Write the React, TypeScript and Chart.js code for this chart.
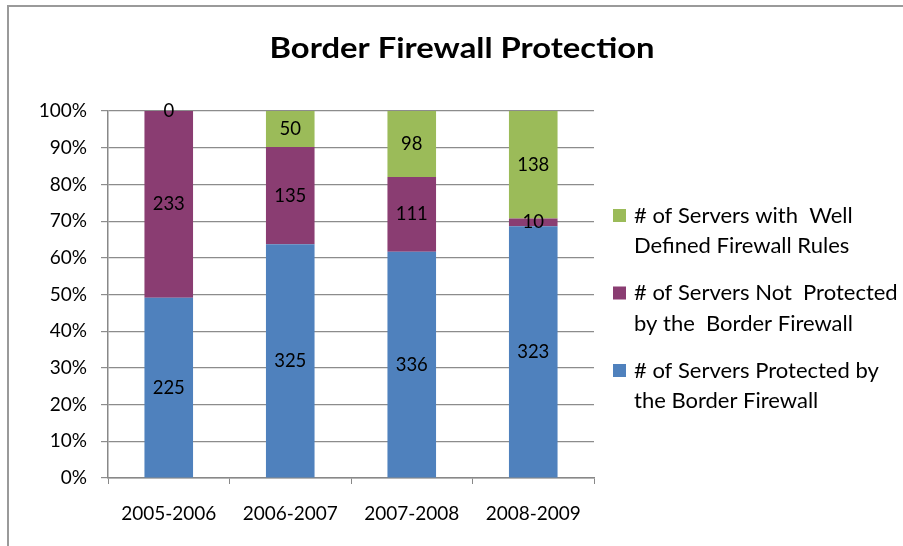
import React, { useEffect, useRef } from "react";
import { Chart, registerables } from "chart.js";

Chart.register(...registerables);

const categories = ["2005-2006", "2006-2007", "2007-2008", "2008-2009"];
const protectedServers = [225, 325, 336, 323];
const notProtectedServers = [233, 135, 111, 10];
const wellDefinedServers = [0, 50, 98, 138];
const chartTitle = "Border Firewall Protection";
const seriesNames = [
  "# of Servers Protected by the Border Firewall",
  "# of Servers Not Protected by the Border Firewall",
  "# of Servers with Well Defined Firewall Rules",
];
const legendLines = [
  ["# of Servers with  Well", "Defined Firewall Rules"],
  ["# of Servers Not  Protected", "by the  Border Firewall"],
  ["# of Servers Protected by", "the Border Firewall"],
];
const seriesColors = ["#4F81BD", "#8A3D72", "#9BBB59"];

const FONT = "Lato, 'Open Sans', sans-serif";

export default function App() {
  const ref = useRef<HTMLCanvasElement | null>(null);

  useEffect(() => {
    document.body.style.margin = "0";
    const canvas = ref.current;
    if (!canvas) return;
    const series = [protectedServers, notProtectedServers, wellDefinedServers];
    const totals = categories.map((_, i) => series.reduce((s, arr) => s + arr[i], 0));
    const pct = (arr: number[]) => arr.map((v, i) => (v / totals[i]) * 100);

    const framePlugin = {
      id: "frame",
      beforeDraw(chart: any) {
        const ctx = chart.ctx;
        ctx.save();
        ctx.fillStyle = "#ffffff";
        ctx.fillRect(0, 0, chart.width, chart.height);
        ctx.strokeStyle = "#9a9a9a";
        ctx.lineWidth = 2;
        ctx.strokeRect(8, 6, chart.width + 20, chart.height + 20);
        ctx.restore();
      },
      afterDraw(chart: any) {
        const ctx = chart.ctx;
        const area = chart.chartArea;
        ctx.save();
        // title (slightly widened to match the original's proportions)
        ctx.fillStyle = "#000000";
        ctx.font = `bold 29px ${FONT}`;
        ctx.textAlign = "center";
        ctx.textBaseline = "alphabetic";
        ctx.save();
        ctx.translate(462, 58);
        ctx.scale(1.13, 1);
        ctx.fillText(chartTitle, 0, 0);
        ctx.restore();
        // legend (reverse order)
        ctx.font = `22px ${FONT}`;
        ctx.textAlign = "left";
        ctx.textBaseline = "middle";
        const order = [2, 1, 0];
        order.forEach((dsIndex, k) => {
          const y0 = 215.5 + k * 77.5;
          ctx.fillStyle = seriesColors[dsIndex];
          ctx.fillRect(area.right + 19, y0 - 6.5, 13, 13);
          ctx.fillStyle = "#000000";
          legendLines[k].forEach((line, j) => {
            ctx.fillText(line, area.right + 40, y0 + j * 30.5);
          });
        });
        ctx.restore();
      },
      afterDatasetsDraw(chart: any) {
        const ctx = chart.ctx;
        ctx.save();
        ctx.fillStyle = "#000000";
        ctx.font = `18.5px ${FONT}`;
        ctx.textAlign = "center";
        ctx.textBaseline = "middle";
        chart.data.datasets.forEach((ds: any, di: number) => {
          const meta = chart.getDatasetMeta(di);
          meta.data.forEach((el: any, i: number) => {
            const y = (el.y + el.base) / 2;
            ctx.fillText(String(series[di][i]), el.x, y);
          });
        });
        ctx.restore();
      },
    };

    const chart = new Chart(canvas, {
      type: "bar",
      data: {
        labels: categories,
        datasets: series.map((arr, i) => ({
          label: seriesNames[i],
          data: pct(arr),
          backgroundColor: seriesColors[i],
          borderWidth: 0,
          barPercentage: 0.4,
          categoryPercentage: 1,
        })),
      },
      options: {
        responsive: false,
        animation: false,
        devicePixelRatio: 1,
        layout: { padding: { top: 111, right: 309, left: 0, bottom: 0 } },
        plugins: {
          legend: { display: false },
          title: { display: false },
          tooltip: { enabled: false },
        },
        scales: {
          x: {
            stacked: true,
            grid: {
              display: true,
              drawOnChartArea: false,
              drawTicks: true,
              tickLength: 6,
              color: "#888888",
              offset: true,
            },
            border: { display: true, color: "#888888", width: 1.5 },
            ticks: {
              color: "#000000",
              font: { family: FONT, size: 19 },
              padding: 18,
              maxRotation: 0,
            },
            afterFit(scale: any) {
              scale.height = 68;
            },
          },
          y: {
            stacked: true,
            min: 0,
            max: 100,
            grid: {
              color: "#8c8c8c",
              lineWidth: 1.2,
              tickLength: 7,
              drawTicks: true,
            },
            border: { display: true, color: "#888888", width: 1.5 },
            ticks: {
              stepSize: 10,
              color: "#000000",
              font: { family: FONT, size: 19 },
              padding: 14,
              callback: (v: any) => `${v}%`,
            },
            afterFit(scale: any) {
              scale.width = 108;
            },
          },
        },
      },
      plugins: [framePlugin],
    });
    return () => chart.destroy();
  }, []);

  return (
    <div style={{ width: 903, height: 546 }}>
      <canvas ref={ref} width={903} height={546} style={{ display: "block" }} />
    </div>
  );
}
